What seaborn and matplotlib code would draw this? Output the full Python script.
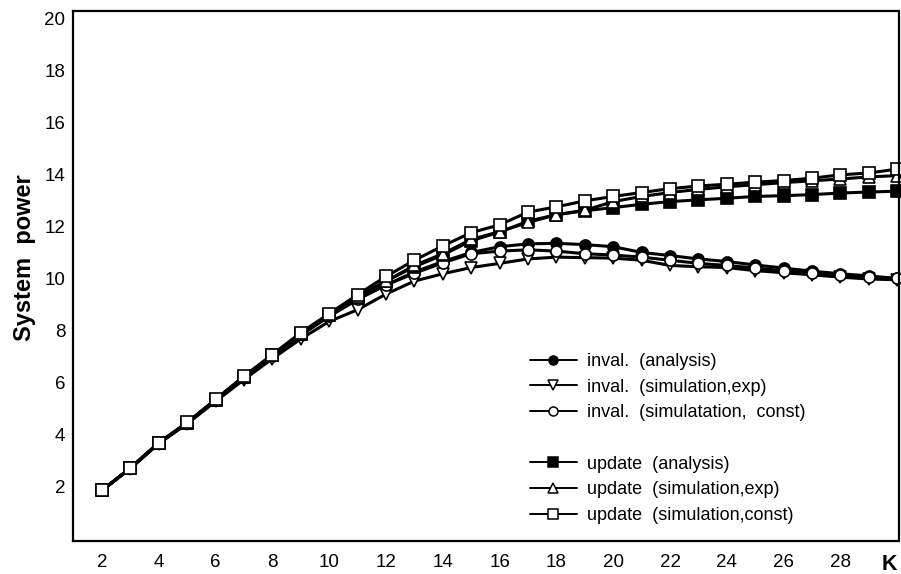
import matplotlib
matplotlib.use("Agg")
import matplotlib.pyplot as plt
import matplotlib.transforms as mtransforms
import seaborn as sns
import pandas as pd
from matplotlib.lines import Line2D

K = list(range(2, 31))

inval_analysis = [1.86, 2.72, 3.68, 4.45, 5.33, 6.20, 7.02, 7.82, 8.55, 9.20,
                  9.75, 10.25, 10.65, 11.00, 11.22, 11.33, 11.35, 11.30, 11.22, 11.00,
                  10.88, 10.75, 10.65, 10.52, 10.40, 10.28, 10.18, 10.10, 10.00]
inval_sim_exp = [1.86, 2.70, 3.66, 4.42, 5.28, 6.12, 6.92, 7.68, 8.35, 8.80,
                 9.40, 9.90, 10.18, 10.42, 10.58, 10.75, 10.82, 10.80, 10.78, 10.70,
                 10.50, 10.45, 10.42, 10.30, 10.22, 10.14, 10.05, 9.98, 9.95]
inval_sim_const = [1.86, 2.72, 3.68, 4.46, 5.34, 6.22, 7.05, 7.85, 8.55, 9.20,
                   9.75, 10.20, 10.60, 10.95, 11.05, 11.10, 11.05, 10.95, 10.90, 10.82,
                   10.70, 10.58, 10.50, 10.40, 10.30, 10.20, 10.12, 10.05, 10.00]
update_analysis = [1.86, 2.72, 3.68, 4.46, 5.34, 6.22, 7.05, 7.88, 8.60, 9.30,
                   9.90, 10.45, 10.90, 11.45, 11.78, 12.20, 12.45, 12.60, 12.72, 12.85,
                   12.95, 13.02, 13.08, 13.15, 13.18, 13.22, 13.28, 13.32, 13.35]
update_sim_exp = [1.86, 2.72, 3.68, 4.46, 5.34, 6.22, 7.05, 7.88, 8.60, 9.30,
                  9.90, 10.50, 10.95, 11.50, 11.80, 12.15, 12.45, 12.62, 12.95, 13.15,
                  13.30, 13.42, 13.52, 13.60, 13.68, 13.75, 13.82, 13.90, 13.95]
update_sim_const = [1.86, 2.73, 3.70, 4.47, 5.36, 6.25, 7.08, 7.92, 8.65, 9.38,
                    10.08, 10.70, 11.25, 11.76, 12.06, 12.55, 12.75, 12.98, 13.15, 13.30,
                    13.45, 13.55, 13.62, 13.70, 13.76, 13.85, 13.98, 14.05, 14.20]

labels = ["inval.  (analysis)", "inval.  (simulation,exp)", "inval.  (simulatation,  const)",
          "update  (analysis)", "update  (simulation,exp)", "update  (simulation,const)"]
series = [inval_analysis, inval_sim_exp, inval_sim_const,
          update_analysis, update_sim_exp, update_sim_const]
x_tick_values = list(range(2, 31, 2))
x_tick_labels = [str(v) for v in range(2, 29, 2)] + ["K"]
y_tick_values = list(range(2, 21, 2))

sns.set_theme(style="white")
plt.rcParams['font.family'] = ['Liberation Sans', 'DejaVu Sans']
plt.rcParams.update({"text.color": "black", "axes.labelcolor": "black",
                     "xtick.color": "black", "ytick.color": "black"})

fig = plt.figure(figsize=(9.01, 5.74), dpi=100)
ax = fig.add_axes([73/901, 33/574, 826/901, 530/574])

styles = [("o", "black"), ("v", "white"), ("o", "white"),
          ("s", "black"), ("^", "white"), ("s", "white")]
handles = []
for vals, lab, (mk, fc) in zip(series, labels, styles):
    df = pd.DataFrame({"K": K, "power": vals})
    sns.lineplot(data=df, x="K", y="power", ax=ax, color="black", lw=2.2,
                 marker=mk, markersize=8, markerfacecolor=fc,
                 markeredgecolor="black", markeredgewidth=1.2, clip_on=False,
                 legend=False)
    handles.append(Line2D([], [], color="black", lw=1.4, marker=mk, markersize=6.5,
                          markerfacecolor=fc, markeredgecolor="black",
                          markeredgewidth=1.1))

ax.set_xlim(0.98, 30.06)
ax.set_ylim(-0.08, 20.27)
ax.set_xticks(x_tick_values)
ax.set_xticklabels(x_tick_labels, fontsize=13.5)
klab = ax.get_xticklabels()[-1]
klab.set_fontweight("bold")
klab.set_fontsize(15.5)
klab.set_horizontalalignment("right")
klab.set_transform(klab.get_transform() +
                   mtransforms.ScaledTranslation(0, 2/72, fig.dpi_scale_trans))
ax.set_yticks(y_tick_values)
ax.set_yticklabels([str(v) for v in y_tick_values], fontsize=13.5)
ax.tick_params(axis="both", direction="out", length=2.5, width=1, colors="black")
ax.tick_params(axis="x", pad=7)
ax.tick_params(axis="y", pad=3)
ax.set_xlabel("")
ax.set_ylabel("System  power", fontsize=17, fontweight="bold", color="black")
ax.yaxis.set_label_coords(-0.045, 0.534)

for sp in ax.spines.values():
    sp.set_visible(True)
    sp.set_color("black")
    sp.set_linewidth(1.6)

blank = Line2D([], [], color="none")
leg_handles = handles[:3] + [blank] + handles[3:]
leg_labels = labels[:3] + [""] + labels[3:]
leg = ax.legend(leg_handles, leg_labels, loc="upper left",
                bbox_to_anchor=(530/901, 1 - 353/574), bbox_transform=fig.transFigure,
                frameon=False, fontsize=13, handlelength=2.6, handletextpad=0.55,
                labelspacing=0.48, borderpad=0, borderaxespad=0)

fig.savefig("out.png", dpi=100)
